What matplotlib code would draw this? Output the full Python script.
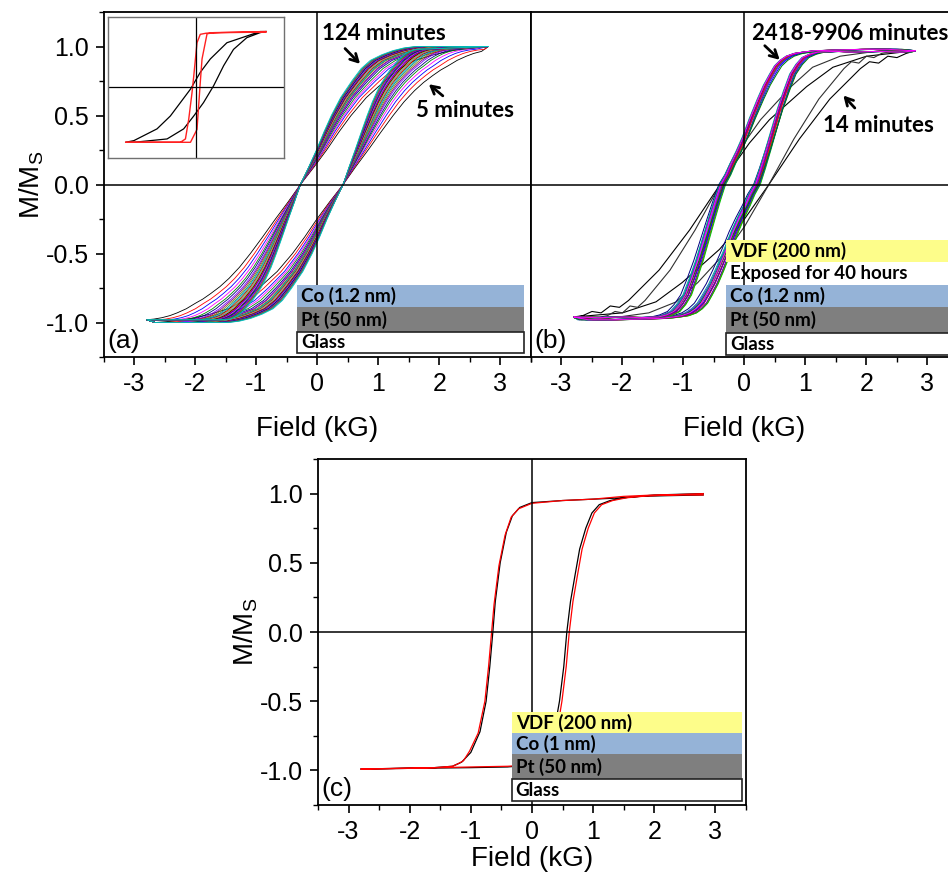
import numpy as np
import matplotlib
matplotlib.use("Agg")
import matplotlib.pyplot as plt
from matplotlib.patches import Rectangle
from matplotlib.ticker import MultipleLocator, NullLocator

plt.rcParams['font.family'] = ['Liberation Sans', 'DejaVu Sans']
plt.rcParams['mathtext.fontset'] = 'custom'
plt.rcParams['mathtext.rm'] = 'Liberation Sans'
plt.rcParams['mathtext.it'] = 'Liberation Sans'

H_END = 2.8

# ---- panel (a): Co(1.2)/Pt, loops recorded from 5 to 124 minutes ----
# descending branch of the 5-minute loop
a_desc_H = [2.8, 2.5, 2.2, 1.9, 1.6, 1.35, 1.1, 0.8, 0.55, 0.35, 0.15, -0.06, -0.28, -0.48,
            -0.69, -0.9, -1.1, -1.28, -1.45, -1.6, -1.75, -1.88, -2.0, -2.15, -2.3, -2.42,
            -2.55, -2.68, -2.8]
a_desc_M = [1.0, 0.99, 0.97, 0.94, 0.9, 0.84, 0.75, 0.63, 0.5, 0.38, 0.25, 0.125, 0.0, -0.125,
            -0.25, -0.38, -0.5, -0.6, -0.68, -0.74, -0.79, -0.83, -0.86, -0.9, -0.93, -0.95,
            -0.965, -0.975, -0.98]
a_hc_down = -0.28
a_hc_up = 0.42
# width of each successive loop relative to the 5-minute loop (below / above the coercive point)
a_spread_low = [1.0, 0.92, 0.86, 0.81, 0.77, 0.74, 0.71, 0.69, 0.67, 0.65, 0.635, 0.62,
                0.61, 0.60, 0.59, 0.58, 0.57, 0.56, 0.55, 0.54, 0.53, 0.52, 0.51, 0.50,
                0.49, 0.48]
a_spread_high = [1.0, 0.94, 0.89, 0.86, 0.83, 0.80, 0.78, 0.77, 0.75, 0.74, 0.73, 0.72,
                 0.71, 0.70, 0.69, 0.685, 0.68, 0.67, 0.66, 0.655, 0.65, 0.64, 0.635, 0.63,
                 0.62, 0.61]

# inset of (a): first and last loop compared with a square loop
in_black_desc_H = [2.78, 2.55, 1.23, 0.57, 0.17, -0.22, -0.62, -1.02, -1.55, -2.47, -2.8]
in_black_desc_M = [1.0, 1.0, 0.80, 0.51, 0.27, -0.03, -0.27, -0.51, -0.74, -0.95, -0.98]
in_black_asc_H = [-2.8, -2.47, -1.15, -0.49, -0.09, 0.30, 0.70, 1.10, 1.49, 2.02, 2.55, 2.78]
in_black_asc_M = [-0.98, -0.98, -0.92, -0.74, -0.51, -0.27, 0.03, 0.39, 0.68, 0.89, 0.98, 1.0]
in_red_desc_H = [2.78, 1.0, 0.4, 0.17, 0.04, -0.09, -0.16, -0.29, -0.42, -0.62, -2.8]
in_red_desc_M = [0.99, 0.98, 0.97, 0.95, 0.8, 0.2, -0.1, -0.57, -0.92, -0.98, -0.98]
in_red_asc_H = [-2.8, -0.5, -0.22, 0.04, 0.17, 0.24, 0.44, 0.7, 2.78]
in_red_asc_M = [-0.98, -0.98, -0.98, -0.75, 0.09, 0.51, 0.96, 0.98, 1.0]

# ---- panel (b): VDF-covered Co(1.2)/Pt ----
b14_desc_H = [2.8, 2.0, 1.45, 1.02, 0.41, 0.08, -0.4, -0.9, -1.4, -1.9, -2.05, -2.2, -2.35, -2.5, -2.65, -2.8]
b14_desc_M = [0.97, 0.93, 0.85, 0.71, 0.47, 0.3, 0.0, -0.33, -0.62, -0.84, -0.89, -0.88, -0.93, -0.92, -0.95, -0.96]
b14_center = 0.0
b_early_spread = [1.0, 0.82]

b_desc_H = [2.8, 2.4, 2.0, 1.6, 1.2, 1.0, 0.85, 0.72, 0.62, 0.53, 0.45, 0.35, 0.25, 0.12, 0.0,
            -0.1, -0.2, -0.28, -0.37, -0.46, -0.55, -0.65, -0.75, -0.85, -0.95, -1.05, -1.15,
            -1.27, -1.4, -1.7, -2.0, -2.4, -2.8]
b_desc_M = [0.97, 0.98, 0.98, 0.975, 0.97, 0.96, 0.95, 0.93, 0.9, 0.86, 0.8, 0.72, 0.62, 0.48, 0.34,
            0.24, 0.15, 0.07, 0.0, -0.12, -0.25, -0.4, -0.55, -0.68, -0.8, -0.87, -0.92,
            -0.945, -0.96, -0.965, -0.96, -0.965, -0.96]
b_hc_down = -0.37
b_hc_up = 0.2
b_spread = [1.0, 0.95, 1.05, 0.97, 1.03, 0.99, 1.08, 0.94, 1.01, 1.0, 0.96, 1.05, 0.98, 1.02, 1.0, 0.97, 1.06, 0.99]
b_shift = [0.0, 0.03, -0.03, 0.05, -0.02, 0.02, -0.05, 0.04, 0.0, -0.03, 0.06, -0.01, 0.02, 0.04, -0.04, 0.01, 0.03, -0.02]

# ---- panel (c): VDF/Co(1)/Pt ----
c_black_desc_H = [2.8, 2.0, 1.5, 1.0, 0.5, 0.0, -0.2, -0.32, -0.42, -0.52, -0.6, -0.64, -0.69, -0.75, -0.85, -1.0, -1.15, -1.3, -1.6, -2.2, -2.8]
c_black_desc_M = [1.0, 0.99, 0.97, 0.96, 0.95, 0.935, 0.9, 0.84, 0.72, 0.5, 0.22, 0.0, -0.25, -0.5, -0.72, -0.87, -0.94, -0.97, -0.98, -0.985, -0.99]
c_black_asc_H = [-2.8, -2.0, -1.0, -0.4, 0.0, 0.15, 0.25, 0.35, 0.45, 0.52, 0.57, 0.63, 0.7, 0.78, 0.88, 0.98, 1.1, 1.28, 1.5, 1.77, 2.2, 2.8]
c_black_asc_M = [-0.99, -0.985, -0.98, -0.975, -0.96, -0.93, -0.87, -0.75, -0.5, -0.25, 0.0, 0.22, 0.4, 0.6, 0.75, 0.86, 0.92, 0.95, 0.97, 0.98, 0.985, 0.99]
c_red_desc_H = [2.8, 2.0, 1.5, 1.0, 0.5, 0.0, -0.22, -0.34, -0.44, -0.54, -0.62, -0.66, -0.71, -0.77, -0.88, -1.02, -1.12, -1.2, -1.3, -1.6, -2.2, -2.8]
c_red_desc_M = [0.99, 0.99, 0.98, 0.96, 0.95, 0.93, 0.89, 0.83, 0.7, 0.48, 0.2, 0.0, -0.25, -0.5, -0.73, -0.86, -0.93, -0.95, -0.97, -0.98, -0.985, -0.99]
c_red_asc_H = [-2.8, -2.0, -1.0, -0.4, 0.0, 0.2, 0.3, 0.4, 0.49, 0.56, 0.61, 0.67, 0.74, 0.82, 0.92, 1.02, 1.14, 1.32, 1.55, 1.8, 2.2, 2.8]
c_red_asc_M = [-0.99, -0.985, -0.975, -0.97, -0.96, -0.93, -0.86, -0.74, -0.5, -0.25, 0.0, 0.22, 0.4, 0.6, 0.75, 0.86, 0.92, 0.95, 0.97, 0.98, 0.99, 1.0]

# Origin-like line colour cycle
cycle = ['#000000', '#ff0000', '#0000ff', '#ff00ff', '#008000', '#000080', '#8000ff',
         '#800080', '#808000', '#008080', '#00c0c0', '#800000', '#ff8000', '#4080ff', '#c0c000']
b_cycle = ['#ff0000', '#0000ff', '#00a0a0', '#800080', '#008000', '#ff00ff', '#000080',
           '#808000', '#4080ff', '#800000', '#00c000', '#8000ff']


def full_loop(dH, dM, center):
    """Descending branch plus the ascending branch obtained by inversion symmetry."""
    dH = np.asarray(dH, float)
    dM = np.asarray(dM, float)
    uH = center - dH
    uM = -dM
    keep = (uH > -H_END) & (uH < H_END)
    uH = np.concatenate([[-H_END], uH[keep], [H_END]])
    uM = np.concatenate([[dM[-1]], uM[keep], [dM[0]]])
    return np.concatenate([dH, uH]), np.concatenate([dM, uM])


def widened(dH, dM, hc, s_low, s_high=None, shift=0.0):
    """Stretch a descending branch about its coercive point."""
    if s_high is None:
        s_high = s_low
    dH = np.asarray(dH, float)
    dM = np.asarray(dM, float)
    s = np.where(dH > hc, s_high, s_low)
    h = hc + shift + s * (dH - hc)
    keep = (h > -H_END) & (h < H_END)
    h = np.concatenate([[H_END], h[keep], [-H_END]])
    m = np.concatenate([[dM[0]], dM[keep], [dM[-1]]])
    return h, m


def style_axes(ax, ylabels=True, xlabelpad=14):
    ax.set_xlim(-3.5, 3.5)
    ax.set_ylim(-1.25, 1.25)
    ax.xaxis.set_major_locator(MultipleLocator(1))
    ax.xaxis.set_minor_locator(MultipleLocator(0.5))
    ax.set_xticks([-3, -2, -1, 0, 1, 2, 3])
    ax.set_xticklabels(['-3', '-2', '-1', '0', '1', '2', '3'])
    if ylabels:
        ax.set_yticks([-1.0, -0.5, 0.0, 0.5, 1.0])
        ax.set_yticklabels(['-1.0', '-0.5', '0.0', '0.5', '1.0'])
        ax.yaxis.set_minor_locator(MultipleLocator(0.25))
        ax.set_ylabel('M/M$_\\mathrm{S}$', fontsize=20, labelpad=0)
    else:
        ax.yaxis.set_major_locator(NullLocator())
        ax.yaxis.set_minor_locator(NullLocator())
    ax.tick_params(which='major', direction='out', length=6, width=1.2, labelsize=18, pad=5,
                   top=False, right=False)
    ax.tick_params(which='minor', direction='out', length=3.5, width=1.0, top=False, right=False)
    for sp in ax.spines.values():
        sp.set_linewidth(1.3)
    ax.set_xlabel('Field (kG)', fontsize=20, labelpad=xlabelpad)
    ax.axhline(0, color='black', lw=1.1, zorder=3)
    ax.axvline(0, color='black', lw=1.1, zorder=3)


def layer_stack(ax, x0, x1, bands):
    """bands: list of (label, facecolor or None, y_bottom, y_top) in axes fraction."""
    for label, fc, yb, yt in bands:
        if label == 'Glass':
            ax.add_patch(Rectangle((x0, yb), x1 - x0, yt - yb, transform=ax.transAxes,
                                   facecolor='white', edgecolor='#222222', lw=1.2, zorder=5))
        elif fc is not None:
            ax.add_patch(Rectangle((x0, yb), x1 - x0, yt - yb, transform=ax.transAxes,
                                   facecolor=fc, edgecolor='none', zorder=5))
        ax.text(x0 + 0.009, (yb + yt) / 2, label, transform=ax.transAxes, fontsize=13.5,
                family=['Lato', 'DejaVu Sans'], fontweight='bold', va='center', ha='left',
                zorder=6)


YELLOW = '#fdfd8a'
BLUE = '#95b3d7'
GRAY = '#7f7f7f'

fig = plt.figure(figsize=(9.48, 8.8), dpi=100)
ax_a = fig.add_axes([0.1097, 0.5943, 0.4504, 0.392])
ax_b = fig.add_axes([0.5601, 0.5943, 0.4504, 0.392])
ax_c = fig.add_axes([0.3354, 0.0852, 0.4515, 0.3932])

# (a)
for i, (sl, shh) in enumerate(zip(a_spread_low, a_spread_high)):
    hd, md = widened(a_desc_H, a_desc_M, a_hc_down, sl, shh)
    lh, lm = full_loop(hd, md, a_hc_down + a_hc_up)
    ax_a.plot(lh, lm, color=cycle[i % len(cycle)], lw=0.6, zorder=2)
style_axes(ax_a)
layer_stack(ax_a, 0.452, 0.984, [
    ('Co (1.2 nm)', BLUE, 0.145, 0.209),
    ('Pt (50 nm)', GRAY, 0.0725, 0.145),
    ('Glass', 'white', 0.0116, 0.0725),
])
ax_a.text(0.008, 0.045, '(a)', transform=ax_a.transAxes, fontsize=19, va='center', ha='left')
bold = dict(fontsize=16, family=['Lato', 'DejaVu Sans'], fontweight='bold')
arrow = dict(arrowstyle='->,head_length=0.55,head_width=0.3', lw=2, color='black')
ax_a.text(0.08, 1.097, '124 minutes', va='center', ha='left', **bold)
ax_a.annotate('', xy=(0.73, 0.86), xytext=(0.42, 1.0), arrowprops=arrow)
ax_a.text(1.62, 0.54, '5 minutes', va='center', ha='left', **bold)
ax_a.annotate('', xy=(1.79, 0.74), xytext=(2.09, 0.63), arrowprops=arrow)

# inset of (a)
ins = fig.add_axes([0.1139, 0.8205, 0.1857, 0.1602])
ins.plot(np.r_[in_black_desc_H, in_black_asc_H], np.r_[in_black_desc_M, in_black_asc_M],
         color='black', lw=0.9)
ins.plot(np.r_[in_red_desc_H, in_red_asc_H], np.r_[in_red_desc_M, in_red_asc_M],
         color='#ff2020', lw=1.0)
ins.axhline(0, color='black', lw=0.9)
ins.axvline(0, color='black', lw=0.9)
ins.set_xlim(-3.5, 3.5)
ins.set_ylim(-1.26, 1.26)
ins.set_xticks([])
ins.set_yticks([])
for sp in ins.spines.values():
    sp.set_color('#707070')
    sp.set_linewidth(1.0)

# (b)
for k, s in enumerate(b_early_spread):
    hd, md = widened(b14_desc_H, b14_desc_M, -0.4, s)
    lh, lm = full_loop(hd, md, b14_center)
    ax_b.plot(lh, lm, color='black' if k == 0 else '#303030', lw=0.8, zorder=2)
for i, (s, sh) in enumerate(zip(b_spread, b_shift)):
    hd, md = widened(b_desc_H, b_desc_M, b_hc_down, s, shift=sh)
    lh, lm = full_loop(hd, md, b_hc_down + b_hc_up + 2 * sh)
    ax_b.plot(lh, lm, color=b_cycle[i % len(b_cycle)], lw=0.7, zorder=2)
style_axes(ax_b, ylabels=False)
layer_stack(ax_b, 0.457, 1.0, [
    ('VDF (200 nm)', YELLOW, 0.275, 0.339),
    ('Exposed for 40 hours', None, 0.209, 0.275),
    ('Co (1.2 nm)', BLUE, 0.145, 0.209),
    ('Pt (50 nm)', GRAY, 0.0696, 0.145),
    ('Glass', 'white', 0.0058, 0.0696),
])
ax_b.text(0.008, 0.045, '(b)', transform=ax_b.transAxes, fontsize=19, va='center', ha='left')
ax_b.text(0.12, 1.097, '2418-9906 minutes', va='center', ha='left', **bold)
ax_b.annotate('', xy=(0.61, 0.89), xytext=(0.30, 1.02), arrowprops=arrow)
ax_b.text(1.28, 0.43, '14 minutes', va='center', ha='left', **bold)
ax_b.annotate('', xy=(1.59, 0.66), xytext=(1.84, 0.54), arrowprops=arrow)

# (c)
ax_c.plot(np.r_[c_black_desc_H, c_black_asc_H], np.r_[c_black_desc_M, c_black_asc_M],
          color='black', lw=0.9, zorder=2)
ax_c.plot(np.r_[c_red_desc_H, c_red_asc_H], np.r_[c_red_desc_M, c_red_asc_M],
          color='#ff0000', lw=0.9, zorder=2)
style_axes(ax_c, xlabelpad=1)
layer_stack(ax_c, 0.453, 0.991, [
    ('VDF (200 nm)', YELLOW, 0.208, 0.269),
    ('Co (1 nm)', BLUE, 0.147, 0.208),
    ('Pt (50 nm)', GRAY, 0.075, 0.147),
    ('Glass', 'white', 0.0116, 0.075),
])
ax_c.text(0.008, 0.045, '(c)', transform=ax_c.transAxes, fontsize=19, va='center', ha='left')

fig.savefig('out.png', dpi=100)
